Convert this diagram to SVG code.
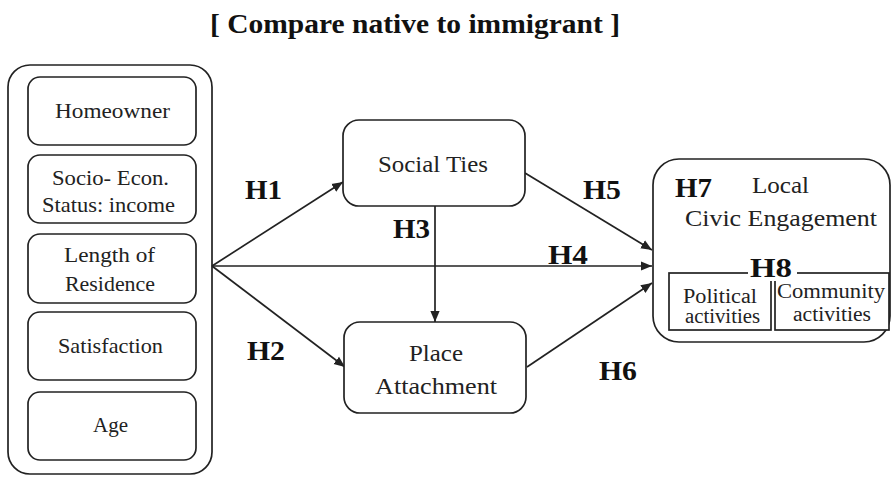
<svg xmlns="http://www.w3.org/2000/svg" width="893" height="478" viewBox="0 0 893 478">
  <style>
    .box { fill: #ffffff; stroke: #222222; stroke-width: 1.7; }
    .line { fill: none; stroke: #222222; stroke-width: 1.7; }
    .t { fill: #222222; text-anchor: middle; font-weight: normal; }
    .lbl { font-size: 21px; }
    .mid { font-size: 23px; }
    .sm { font-size: 20px; }
    .h { font-weight: bold; font-size: 27px; fill: #111111; }
  </style>
  <defs>
    <marker id="arr" viewBox="0 0 10 10" refX="10" refY="5" markerWidth="11" markerHeight="11" markerUnits="userSpaceOnUse" orient="auto">
      <path d="M0,0.8 L10,5 L0,9.2 Z" fill="#222222"/>
    </marker>
  </defs>
  <rect width="893" height="478" fill="#ffffff"/>

  <g font-family="'Liberation Serif', 'Times New Roman', serif">
    <text class="h" x="415" y="33" text-anchor="middle" font-size="26" textLength="410" lengthAdjust="spacingAndGlyphs">[ Compare native to immigrant ]</text>

    <!-- predictor group -->
    <g id="predictors">
      <rect class="box" x="8" y="65" width="204" height="409" rx="22"/>
      <g id="homeowner">
        <rect class="box" x="28" y="77" width="168" height="68" rx="12"/>
        <text class="t lbl" x="112.5" y="118" textLength="115" lengthAdjust="spacingAndGlyphs">Homeowner</text>
      </g>
      <g id="income">
        <rect class="box" x="28" y="155" width="168" height="68" rx="12"/>
        <text class="t lbl" x="110.5" y="185" textLength="117" lengthAdjust="spacingAndGlyphs">Socio- Econ.</text>
        <text class="t lbl" x="108.5" y="211.5" textLength="133" lengthAdjust="spacingAndGlyphs">Status: income</text>
      </g>
      <g id="residence">
        <rect class="box" x="28" y="234" width="168" height="69" rx="12"/>
        <text class="t lbl" x="109.5" y="261.5" textLength="91" lengthAdjust="spacingAndGlyphs">Length of</text>
        <text class="t lbl" x="110" y="290.5" textLength="90" lengthAdjust="spacingAndGlyphs">Residence</text>
      </g>
      <g id="satisfaction">
        <rect class="box" x="28" y="312" width="168" height="68" rx="12"/>
        <text class="t lbl" x="110.5" y="353" textLength="105" lengthAdjust="spacingAndGlyphs">Satisfaction</text>
      </g>
      <g id="age">
        <rect class="box" x="28" y="392" width="168" height="68" rx="12"/>
        <text class="t lbl" x="110.5" y="432" textLength="35" lengthAdjust="spacingAndGlyphs">Age</text>
      </g>
    </g>

    <!-- connectors -->
    <g id="connectors">
      <line class="line" x1="212" y1="266" x2="343" y2="182" marker-end="url(#arr)"/>
      <line class="line" x1="212" y1="266" x2="345" y2="367" marker-end="url(#arr)"/>
      <line class="line" x1="212" y1="266" x2="652" y2="266" marker-end="url(#arr)"/>
      <line class="line" x1="435" y1="206" x2="435" y2="322" marker-end="url(#arr)"/>
      <line class="line" x1="525" y1="173" x2="652" y2="250" marker-end="url(#arr)"/>
      <line class="line" x1="527" y1="367" x2="652" y2="283" marker-end="url(#arr)"/>
    </g>

    <g id="social-ties">
      <rect class="box" x="343" y="120" width="182" height="86" rx="16"/>
      <text class="t mid" x="433" y="171.5" textLength="110" lengthAdjust="spacingAndGlyphs">Social Ties</text>
    </g>

    <g id="place-attachment">
      <rect class="box" x="344" y="322" width="182" height="91" rx="16"/>
      <text class="t mid" x="436" y="360.5" textLength="54" lengthAdjust="spacingAndGlyphs">Place</text>
      <text class="t mid" x="436" y="394" textLength="122" lengthAdjust="spacingAndGlyphs">Attachment</text>
    </g>

    <!-- hypothesis labels -->
    <g id="hypotheses">
      <text class="h" x="245" y="199" textLength="37" lengthAdjust="spacingAndGlyphs">H1</text>
      <text class="h" x="247" y="360" textLength="38" lengthAdjust="spacingAndGlyphs">H2</text>
      <text class="h" x="393" y="238" textLength="37" lengthAdjust="spacingAndGlyphs">H3</text>
      <text class="h" x="548" y="264" textLength="40" lengthAdjust="spacingAndGlyphs">H4</text>
      <text class="h" x="583" y="199" textLength="38" lengthAdjust="spacingAndGlyphs">H5</text>
      <text class="h" x="599" y="380" textLength="38" lengthAdjust="spacingAndGlyphs">H6</text>
    </g>

    <g id="civic-engagement">
      <rect class="box" x="653" y="159" width="237" height="183" rx="26"/>
      <text class="h" x="675" y="196.5" textLength="37" lengthAdjust="spacingAndGlyphs">H7</text>
      <text class="t mid" x="780.5" y="193" textLength="57" lengthAdjust="spacingAndGlyphs">Local</text>
      <text class="t mid" x="781" y="225.5" textLength="192" lengthAdjust="spacingAndGlyphs">Civic Engagement</text>
      <g id="political">
        <rect class="box" x="669" y="273" width="102" height="57"/>
        <text class="t sm" x="720" y="302.5" textLength="74" lengthAdjust="spacingAndGlyphs">Political</text>
        <text class="t sm" x="722.5" y="322.5" textLength="75" lengthAdjust="spacingAndGlyphs">activities</text>
      </g>
      <g id="community">
        <rect class="box" x="775" y="273" width="114" height="57"/>
        <text class="t sm" x="831" y="298" textLength="108" lengthAdjust="spacingAndGlyphs">Community</text>
        <text class="t sm" x="832" y="321" textLength="78" lengthAdjust="spacingAndGlyphs">activities</text>
      </g>
      <rect x="748" y="258" width="49" height="23" fill="#ffffff"/>
      <text class="h" x="750" y="277" textLength="42" lengthAdjust="spacingAndGlyphs">H8</text>
    </g>
  </g>
</svg>
